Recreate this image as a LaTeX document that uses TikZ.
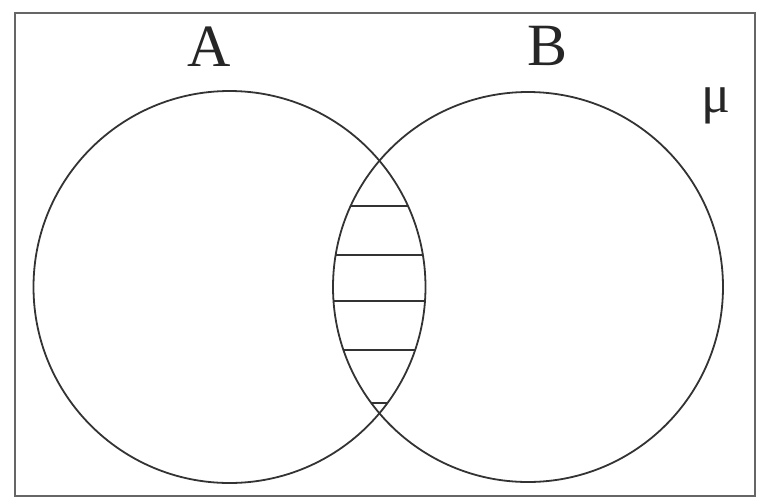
\documentclass[tikz,border=0pt]{standalone}
\usepackage{fontspec}
\setmainfont{Liberation Serif}
\tikzset{
  frameline/.style={draw=black!60, line width=2.6pt},
  setline/.style={draw=black!80, line width=1.8pt},
  hatchline/.style={draw=black!80, line width=2.2pt},
  setlabel/.style={font=\fontsize{60}{60}\selectfont, text=black!85, inner sep=0pt},
  unilabel/.style={font=\fontsize{54}{54}\selectfont, text=black!85, inner sep=0pt}
}
\begin{document}
\begin{tikzpicture}[x=1pt,y=-1pt]
\useasboundingbox (0,0) rectangle (758,499);
\draw[frameline] (15,13) rectangle (755,496);
\coordinate (cA) at (229.5,287);
\coordinate (cB) at (528,287);
\begin{scope}
  \clip (cA) circle (196);
  \clip (cB) circle (195);
  \foreach \yy in {206,255,301,350,403}
    \draw[hatchline] (300,\yy) -- (460,\yy);
\end{scope}
\draw[setline] (cA) circle (196);
\draw[setline] (cB) circle (195);
\node[setlabel] (labA) at (209,47) {A};
\node[setlabel] (labB) at (548,46) {B};
\node[unilabel] (labU) at (716,106) {μ};
\end{tikzpicture}
\end{document}
